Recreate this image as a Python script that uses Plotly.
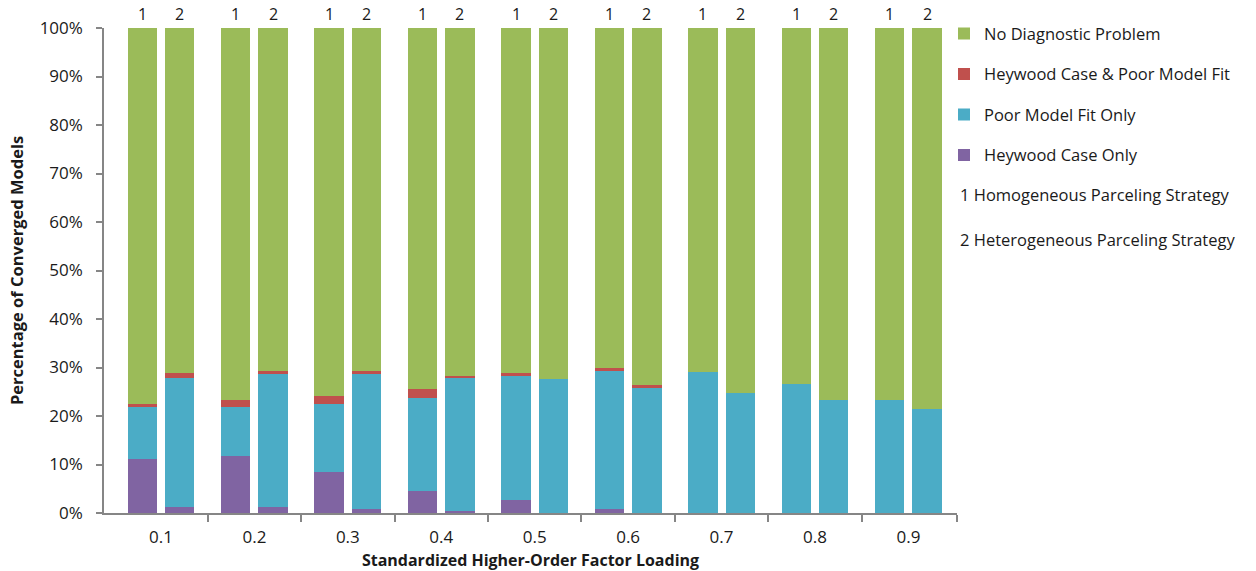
import plotly.graph_objects as go

loadings = ["0.1", "0.2", "0.3", "0.4", "0.5", "0.6", "0.7", "0.8", "0.9"]

# Strategy 1: homogeneous parceling (percent of converged models)
heywood_only_1 = [11.1, 11.8, 8.5, 4.6, 2.6, 0.9, 0.0, 0.0, 0.0]
poor_fit_only_1 = [10.7, 10.0, 14.0, 19.2, 25.6, 28.4, 29.0, 26.6, 23.2]
heywood_and_poor_1 = [0.7, 1.6, 1.7, 1.7, 0.7, 0.7, 0.0, 0.0, 0.0]
no_problem_1 = [77.5, 76.6, 75.8, 74.5, 71.1, 70.0, 71.0, 73.4, 76.8]

# Strategy 2: heterogeneous parceling
heywood_only_2 = [1.2, 1.2, 0.9, 0.5, 0.0, 0.0, 0.0, 0.0, 0.0]
poor_fit_only_2 = [26.7, 27.4, 27.7, 27.4, 27.6, 25.9, 24.8, 23.4, 21.4]
heywood_and_poor_2 = [1.0, 0.7, 0.7, 0.4, 0.0, 0.4, 0.0, 0.0, 0.0]
no_problem_2 = [71.1, 70.7, 70.7, 71.7, 72.4, 73.7, 75.2, 76.6, 78.6]

strategy_labels = ["1", "2"]
legend_notes = ["1 Homogeneous Parceling Strategy", "2 Heterogeneous Parceling Strategy"]

FONT = "Open Sans"
TEXT = "#1a1a1a"
AXIS = "#868686"
OFFSET = 0.2
BAR_W = 0.315

n = len(loadings)
x1 = [i - OFFSET for i in range(n)]
x2 = [i + OFFSET for i in range(n)]
xs = x1 + x2

# stacking order bottom -> top; legendrank lists the top segment first
series = [
    ("Heywood Case Only", heywood_only_1, heywood_only_2, "#8064A2", 4),
    ("Poor Model Fit Only", poor_fit_only_1, poor_fit_only_2, "#4BACC6", 3),
    ("Heywood Case & Poor Model Fit", heywood_and_poor_1, heywood_and_poor_2, "#C0504D", 2),
    ("No Diagnostic Problem", no_problem_1, no_problem_2, "#9BBB59", 1),
]

fig = go.Figure()
for name, s1, s2, color, rank in series:
    fig.add_trace(go.Bar(
        x=xs, y=s1 + s2, width=BAR_W, name=name, legendgroup=name,
        legendrank=rank,
        marker=dict(color=color, line=dict(width=0)),
        hovertemplate="%{y:.1f}%<extra>" + name + "</extra>",
    ))

# page geometry in pixels
W, H = 1256, 571
ML, MR, MT, MB = 104, 299, 28, 58
plot_w = W - ML - MR
plot_h = H - MT - MB

# strategy number above each bar
annotations = []
for k, xpos in enumerate([x1, x2]):
    for xv in xpos:
        annotations.append(dict(
            x=xv, y=100, xref="x", yref="y", text=strategy_labels[k],
            showarrow=False, yanchor="bottom", yshift=1,
            font=dict(family=FONT, size=16, color=TEXT),
        ))

for j, note in enumerate(legend_notes):
    px, py = 958, 194 + 45 * j
    annotations.append(dict(
        x=(px - ML) / plot_w, y=(H - py - MB) / plot_h, xref="paper", yref="paper",
        text=note, showarrow=False, xanchor="left", yanchor="middle",
        font=dict(family=FONT, size=16.5, color=TEXT),
    ))

fig.update_layout(
    width=W, height=H,
    margin=dict(l=ML, r=MR, t=MT, b=MB),
    barmode="stack",
    plot_bgcolor="white", paper_bgcolor="white",
    font=dict(family=FONT, size=16, color=TEXT),
    annotations=annotations,
    legend=dict(
        traceorder="grouped", tracegroupgap=16,
        x=(944 - ML) / plot_w, xanchor="left", y=1.024, yanchor="top",
        font=dict(family=FONT, size=16.5, color=TEXT),
        itemwidth=30, bgcolor="rgba(0,0,0,0)",
    ),
    xaxis=dict(
        range=[-0.61, 8.52], tickmode="array",
        tickvals=list(range(n)), ticktext=loadings, ticks="",
        ticklabelstandoff=8, automargin=False,
        showline=True, linecolor=AXIS, linewidth=1.5, showgrid=False,
        zeroline=False, tickfont=dict(family=FONT, size=17, color=TEXT),
        minor=dict(tickmode="array", tickvals=[i + 0.5 for i in range(n - 1)] + [8.52],
                   ticks="outside", ticklen=7, tickcolor=AXIS, tickwidth=1.5),
        title=dict(text="<b>Standardized Higher-Order Factor Loading</b>",
                   font=dict(family=FONT, size=16, color=TEXT), standoff=17),
    ),
    yaxis=dict(
        range=[0, 100], dtick=10, ticksuffix="%",
        ticks="outside", ticklen=6, tickcolor=AXIS, tickwidth=1.5,
        ticklabelstandoff=10, automargin=False,
        showline=True, linecolor=AXIS, linewidth=1.5, showgrid=False,
        zeroline=False, tickfont=dict(family=FONT, size=17, color=TEXT),
        title=dict(text="<b>Percentage of Converged Models</b>",
                   font=dict(family=FONT, size=16.5, color=TEXT), standoff=12),
    ),
)

fig.write_html("out.html")
